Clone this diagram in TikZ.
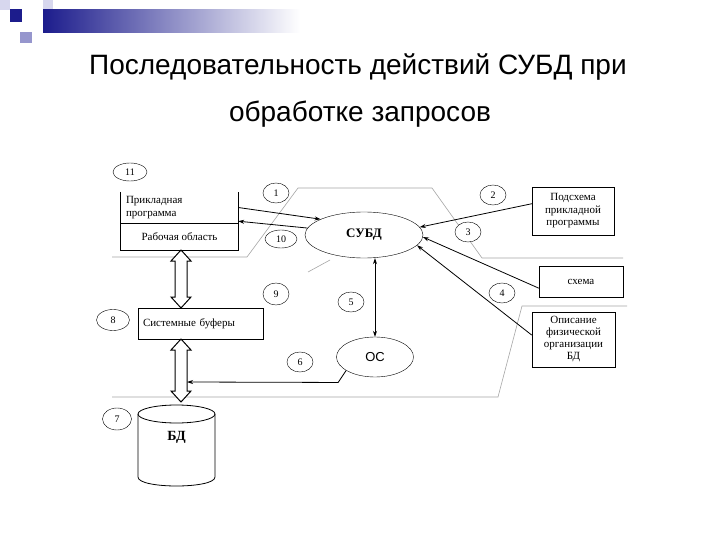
\documentclass[tikz,border=0pt]{standalone}
\usepackage{fontspec}
\setmainfont{Liberation Serif}
\newfontfamily\headfont{Liberation Sans}
\usepackage{tikz}
\usetikzlibrary{arrows.meta, positioning, shapes.geometric}

\definecolor{slideblue}{RGB}{28,28,140}
\definecolor{slidelav}{RGB}{150,150,205}
\definecolor{slidepale}{RGB}{215,215,238}

% hollow two-headed arrow: x, top y, bottom y
\newcommand{\hollowdbl}[3]{%
  \draw[line width=1pt, fill=white] (#1,#2) -- (#1+10,#2+11) -- (#1+6,#2+11)
    -- (#1+6,#3-11) -- (#1+10,#3-11) -- (#1,#3) -- (#1-10,#3-11)
    -- (#1-6,#3-11) -- (#1-6,#2+11) -- (#1-10,#2+11) -- cycle;}

\begin{document}
\begin{tikzpicture}[x=1pt, y=-1pt,
  box/.style={rectangle, draw=black, font=\fontsize{11}{12.5}\selectfont,
              align=center, inner sep=2pt},
  region/.style={rectangle, inner sep=0pt, font=\fontsize{11}{12.5}\selectfont},
  num/.style={ellipse, draw=black, fill=white, inner sep=0pt,
              minimum width=26pt, minimum height=20pt,
              font=\fontsize{10}{10}\selectfont},
  proc/.style={ellipse, draw=black, fill=white, inner sep=0pt},
  border/.style={gray!70, line width=0.6pt},
  arr/.style={-{Stealth[length=6pt, width=4pt]}, line width=0.8pt},
  dbl/.style={{Stealth[length=6pt, width=4pt]}-{Stealth[length=6pt, width=4pt]}, line width=0.8pt}
]
  \useasboundingbox (0,0) rectangle (720,540);
  \fill[white] (0,0) rectangle (720,540);

  % slide decoration
  \fill[slidepale] (0,0) rectangle (10,10);
  \fill[slideblue] (10,9) rectangle (22,22);
  \fill[slidelav] (20,32) rectangle (32,43);
  \fill[slidepale] (43,0) rectangle (53,11);
  \shade[left color=slideblue, right color=white] (43,10) rectangle (300,33);

  % title
  \node[font=\headfont\fontsize{28}{34}\selectfont] (title1) at (358,67)
    {Последовательность действий СУБД при};
  \node[font=\headfont\fontsize{28}{34}\selectfont] (title2) at (360,114)
    {обработке запросов};

  % region borders
  \draw[border] (112,257) -- (247,257) -- (298,188) -- (432,188) -- (482,258) -- (623,258);
  \draw[border] (308,272) -- (330,260);
  \draw[border] (112,397) -- (498,397) -- (522,306) -- (627,306);

  % application program
  \node[region, minimum width=117pt, minimum height=31pt, text width=107pt,
        align=left] (appl) at (179.5,207.5) {Прикладная\\программа};
  \node[region, minimum width=117pt, minimum height=27pt] (work) at (179.5,236.5)
    {Рабочая область};
  \draw[line width=0.8pt] (appl.north west) -- (work.south west) -- (work.south east)
    -- (appl.north east);
  \draw[line width=0.8pt] (appl.south west) -- (appl.south east);

  % system buffers
  \node[box, minimum width=125pt, minimum height=31pt, text width=115pt,
        align=left] (buf) at (200.5,323.5) {Системные буферы};

  % database
  \draw[line width=0.8pt, fill=white] (138,414) -- (138,477)
    .. controls (138,489) and (215,489) .. (215,477) -- (215,414);
  \draw[line width=0.8pt, fill=white] (176.5,414) ellipse (38.5 and 9);
  \node[font=\fontsize{14}{14}\selectfont\bfseries] (bd) at (176.5,437) {БД};

  % DBMS and OS
  \node[proc, minimum width=118pt, minimum height=46pt,
        font=\fontsize{13}{13}\selectfont\bfseries] (subd) at (364,235) {СУБД};
  \node[proc, minimum width=77pt, minimum height=40pt,
        font=\headfont\fontsize{13}{13}\selectfont] (os) at (375,357) {ОС};

  % schemas
  \node[box, minimum width=82pt, minimum height=48pt] (sub) at (573,211)
    {Подсхема\\прикладной\\программы};
  \node[box, minimum width=84pt, minimum height=31pt] (schema) at (581,281.5) {схема};
  \node[box, minimum width=83pt, minimum height=55pt,
        font=\fontsize{11}{12}\selectfont] (phys) at (573.5,339.5)
    {Описание\\физической\\организации\\БД};

  % step numbers
  \node[num, minimum width=34pt, minimum height=18pt] (n11) at (130,172) {11};
  \node[num] (n1) at (276,193) {1};
  \node[num, minimum width=32pt, minimum height=18pt] (n10) at (281,239) {10};
  \node[num] (n2) at (493,195) {2};
  \node[num] (n3) at (468,232) {3};
  \node[num] (n4) at (502,293) {4};
  \node[num] (n5) at (351,302) {5};
  \node[num] (n6) at (300,362) {6};
  \node[num, minimum height=22pt] (n9) at (276,294) {9};
  \node[num, minimum width=33pt, minimum height=21pt] (n8) at (113,320) {8};
  \node[num, minimum width=29pt, minimum height=22pt] (n7) at (117,419) {7};

  % data paths
  \hollowdbl{181}{250}{308}
  \hollowdbl{181}{339}{402}
  \coordinate (dbar) at (187,382);

  % requests
  \draw[arr] (appl.east) -- (subd.160);
  \draw[arr] (subd.173) -- ([yshift=2pt]appl.south east);
  \draw[arr] (sub.170) -- (subd.8);
  \draw[arr] (schema.189) -- (subd.-2);
  \draw[arr] (phys.174) -- (subd.-11);
  \draw[dbl] (subd.south -| os.north) -- (os.north);
  \draw[arr] (os.-155) -- ++(-8,12) -- (dbar);
\end{tikzpicture}
\end{document}
